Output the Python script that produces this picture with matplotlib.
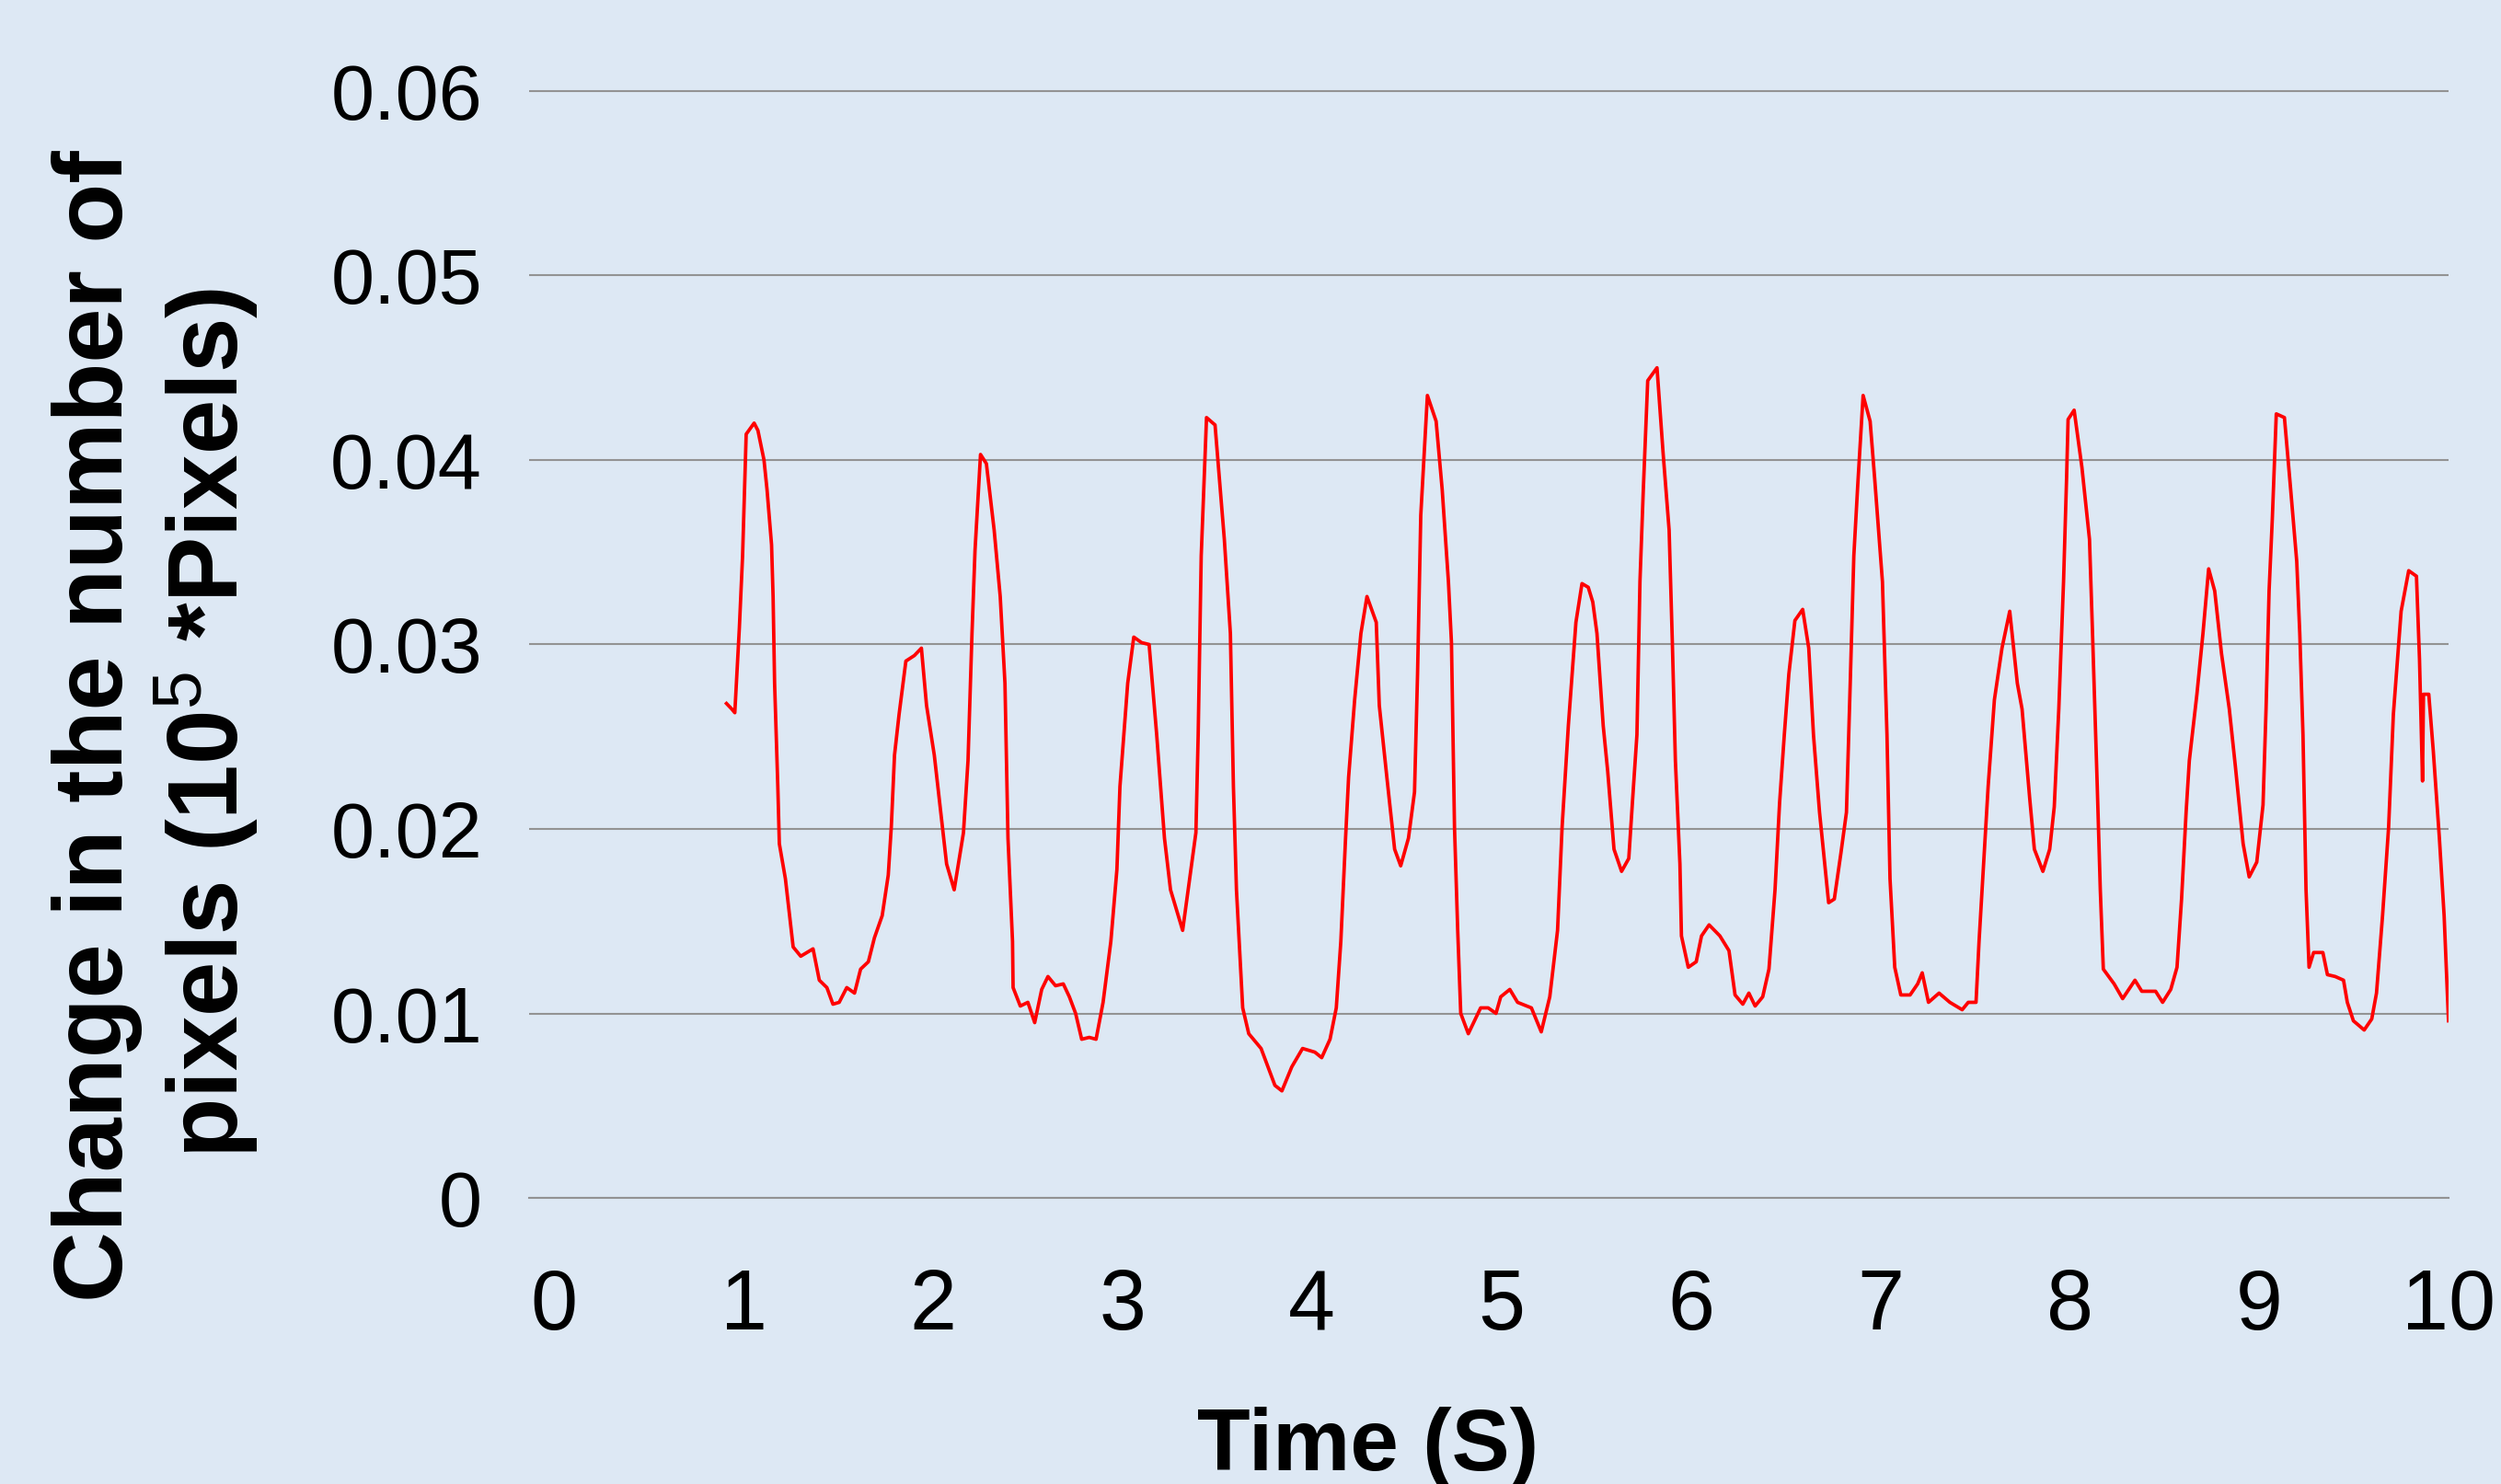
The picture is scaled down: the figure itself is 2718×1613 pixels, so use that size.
import matplotlib
matplotlib.use("Agg")
import matplotlib.pyplot as plt

# ---- data ----
time_s = [0.910, 0.938, 0.954, 0.978, 0.995, 1.014, 1.056, 1.076, 1.108, 1.124, 1.148, 1.156, 1.164, 1.181,
          1.189, 1.221, 1.262, 1.302, 1.367, 1.400, 1.440, 1.472, 1.505, 1.545, 1.586, 1.618, 1.659, 1.691,
          1.732, 1.764, 1.780, 1.797, 1.821, 1.857, 1.902, 1.939, 1.966, 2.007, 2.072, 2.112, 2.161, 2.185,
          2.206, 2.222, 2.251, 2.282, 2.323, 2.355, 2.380, 2.396, 2.420, 2.423, 2.461, 2.501, 2.537, 2.574,
          2.607, 2.647, 2.688, 2.720, 2.753, 2.785, 2.825, 2.861, 2.898, 2.939, 2.971, 2.987, 3.028, 3.060,
          3.101, 3.141, 3.181, 3.222, 3.254, 3.318, 3.351, 3.388, 3.400, 3.416, 3.444, 3.489, 3.538, 3.570,
          3.586, 3.602, 3.635, 3.667, 3.732, 3.765, 3.805, 3.842, 3.894, 3.951, 4.016, 4.052, 4.096, 4.129,
          4.153, 4.178, 4.194, 4.226, 4.259, 4.291, 4.340, 4.356, 4.396, 4.437, 4.469, 4.510, 4.542, 4.558,
          4.575, 4.610, 4.656, 4.688, 4.721, 4.737, 4.753, 4.770, 4.786, 4.826, 4.891, 4.931, 4.972, 4.997,
          5.045, 5.086, 5.159, 5.211, 5.256, 5.297, 5.321, 5.354, 5.394, 5.426, 5.459, 5.483, 5.505, 5.538,
          5.562, 5.595, 5.635, 5.673, 5.692, 5.716, 5.732, 5.749, 5.773, 5.822, 5.854, 5.886, 5.903, 5.919,
          5.943, 5.951, 5.987, 6.029, 6.057, 6.097, 6.154, 6.202, 6.234, 6.275, 6.307, 6.340, 6.380, 6.413,
          6.445, 6.469, 6.494, 6.518, 6.550, 6.591, 6.623, 6.648, 6.680, 6.728, 6.758, 6.793, 6.822, 6.842,
          6.861, 6.882, 6.910, 6.947, 6.971, 7.012, 7.036, 7.052, 7.077, 7.109, 7.158, 7.198, 7.222, 7.255,
          7.311, 7.368, 7.433, 7.465, 7.506, 7.522, 7.546, 7.570, 7.603, 7.643, 7.684, 7.724, 7.749, 7.789,
          7.814, 7.859, 7.895, 7.919, 7.943, 7.968, 7.984, 7.992, 8.024, 8.065, 8.105, 8.121, 8.146, 8.162,
          8.178, 8.235, 8.280, 8.345, 8.381, 8.454, 8.491, 8.534, 8.567, 8.591, 8.615, 8.632, 8.672, 8.704,
          8.734, 8.766, 8.802, 8.843, 8.875, 8.916, 8.948, 8.988, 9.021, 9.037, 9.053, 9.070, 9.091, 9.134,
          9.167, 9.199, 9.215, 9.232, 9.248, 9.264, 9.288, 9.337, 9.361, 9.402, 9.446, 9.466, 9.498, 9.555,
          9.595, 9.620, 9.652, 9.684, 9.709, 9.750, 9.790, 9.831, 9.847, 9.863, 9.868, 9.896, 9.920, 9.952,
          9.977, 10.0]
pixel_change = [0.0268, 0.0265, 0.0263, 0.0309, 0.0348, 0.0414, 0.0420, 0.0416, 0.0400, 0.0384, 0.0354, 0.0326,
                0.0279, 0.0223, 0.0192, 0.0173, 0.0136, 0.0131, 0.0135, 0.0118, 0.0114, 0.0105, 0.0106, 0.0114,
                0.0111, 0.0124, 0.0128, 0.0141, 0.0153, 0.0175, 0.0201, 0.0240, 0.0262, 0.0291, 0.0294, 0.0298,
                0.0267, 0.0240, 0.0181, 0.0167, 0.0198, 0.0237, 0.0306, 0.0351, 0.0403, 0.0398, 0.0362, 0.0326,
                0.0279, 0.0195, 0.0139, 0.0114, 0.0104, 0.0106, 0.0095, 0.0113, 0.0120, 0.0115, 0.0116, 0.0109,
                0.0100, 0.0086, 0.0087, 0.0086, 0.0106, 0.0139, 0.0178, 0.0223, 0.0279, 0.0304, 0.0301, 0.0300,
                0.0251, 0.0195, 0.0167, 0.0145, 0.0170, 0.0198, 0.0251, 0.0348, 0.0423, 0.0419, 0.0357, 0.0306,
                0.0223, 0.0167, 0.0103, 0.0089, 0.0081, 0.0072, 0.0061, 0.0058, 0.0071, 0.0081, 0.0079, 0.0076,
                0.0086, 0.0103, 0.0139, 0.0195, 0.0228, 0.0270, 0.0306, 0.0326, 0.0312, 0.0267, 0.0228, 0.0189,
                0.0180, 0.0195, 0.0220, 0.0284, 0.0370, 0.0435, 0.0421, 0.0384, 0.0334, 0.0301, 0.0201, 0.0145,
                0.0100, 0.0089, 0.0103, 0.0103, 0.0100, 0.0109, 0.0113, 0.0106, 0.0103, 0.0090, 0.0109, 0.0145,
                0.0201, 0.0256, 0.0312, 0.0333, 0.0331, 0.0323, 0.0306, 0.0256, 0.0231, 0.0189, 0.0177, 0.0184,
                0.0214, 0.0251, 0.0334, 0.0382, 0.0443, 0.0450, 0.0404, 0.0362, 0.0301, 0.0237, 0.0181, 0.0142,
                0.0125, 0.0128, 0.0142, 0.0148, 0.0142, 0.0134, 0.0110, 0.0105, 0.0111, 0.0104, 0.0109, 0.0124,
                0.0167, 0.0214, 0.0251, 0.0284, 0.0313, 0.0319, 0.0298, 0.0251, 0.0209, 0.0160, 0.0162, 0.0187,
                0.0209, 0.0279, 0.0348, 0.0387, 0.0435, 0.0421, 0.0390, 0.0334, 0.0251, 0.0173, 0.0125, 0.0110,
                0.0110, 0.0116, 0.0122, 0.0106, 0.0111, 0.0106, 0.0102, 0.0106, 0.0106, 0.0139, 0.0181, 0.0223,
                0.0270, 0.0298, 0.0318, 0.0279, 0.0265, 0.0217, 0.0189, 0.0177, 0.0189, 0.0212, 0.0265, 0.0334,
                0.0390, 0.0422, 0.0427, 0.0396, 0.0357, 0.0306, 0.0223, 0.0167, 0.0124, 0.0116, 0.0108, 0.0118,
                0.0112, 0.0112, 0.0106, 0.0113, 0.0125, 0.0162, 0.0209, 0.0237, 0.0273, 0.0306, 0.0341, 0.0329,
                0.0295, 0.0265, 0.0234, 0.0192, 0.0174, 0.0182, 0.0213, 0.0265, 0.0329, 0.0368, 0.0425, 0.0423,
                0.0384, 0.0345, 0.0306, 0.0251, 0.0167, 0.0125, 0.0133, 0.0133, 0.0121, 0.0120, 0.0118, 0.0106,
                0.0096, 0.0091, 0.0097, 0.0111, 0.0153, 0.0201, 0.0262, 0.0318, 0.0340, 0.0337, 0.0292, 0.0226,
                0.0273, 0.0273, 0.0242, 0.0195, 0.0153, 0.0096]
x_ticks = [0, 1, 2, 3, 4, 5, 6, 7, 8, 9, 10]
x_tick_labels = ["0", "1", "2", "3", "4", "5", "6", "7", "8", "9", "10"]
y_ticks = [0, 0.01, 0.02, 0.03, 0.04, 0.05, 0.06]
y_tick_labels = ["0", "0.01", "0.02", "0.03", "0.04", "0.05", "0.06"]

BG = "#dde8f4"
GRID = "#939393"

plt.rcParams["font.family"] = ["Liberation Sans", "DejaVu Sans"]
plt.rcParams["mathtext.fontset"] = "custom"
plt.rcParams["mathtext.rm"] = "Liberation Sans"
plt.rcParams["mathtext.it"] = "Liberation Sans"
plt.rcParams["mathtext.bf"] = "Liberation Sans:bold"

fig = plt.figure(figsize=(27.18, 16.13), dpi=100, facecolor=BG)
ax = fig.add_axes([0.2117, 0.1928, 0.979 - 0.2117, 0.9399 - 0.1928])
ax.set_facecolor(BG)

ax.plot(time_s, pixel_change, color="#ff0000", lw=2.7, zorder=3)

ax.set_xlim(-0.13, 10.0)
ax.set_ylim(0, 0.0601)

for s in ["top", "right", "left"]:
    ax.spines[s].set_visible(False)
ax.spines["bottom"].set_color(GRID)
ax.spines["bottom"].set_linewidth(1.5)

ax.set_yticks(y_ticks)
ax.set_yticklabels(y_tick_labels)
ax.yaxis.grid(True, color=GRID, lw=1.5)
ax.set_axisbelow(True)
ax.tick_params(axis="y", length=0, pad=37, labelsize=61, labelcolor="black")

ax.set_xticks(x_ticks)
ax.set_xticklabels(x_tick_labels)
ax.tick_params(axis="x", which="major", length=0, pad=55, labelsize=66, labelcolor="black")
ax.set_xticks(x_ticks[1:-1], minor=True)
ax.tick_params(axis="x", which="minor", length=20, width=1.5, color=GRID, direction="out")

fig.text(0.0490, 0.511, "Change in the number of", rotation=90, rotation_mode="anchor",
         ha="center", va="baseline", fontsize=76.5, fontweight="bold")
fig.text(0.0955, 0.513, "pixels (10$^{5}$ *Pixels)", rotation=90, rotation_mode="anchor",
         ha="center", va="baseline", fontsize=77, fontweight="bold")
fig.text(0.547, 0.0093, "Time (S)", ha="center", va="baseline", fontsize=68, fontweight="bold")

fig.savefig("out.png", dpi=100, facecolor=BG)
